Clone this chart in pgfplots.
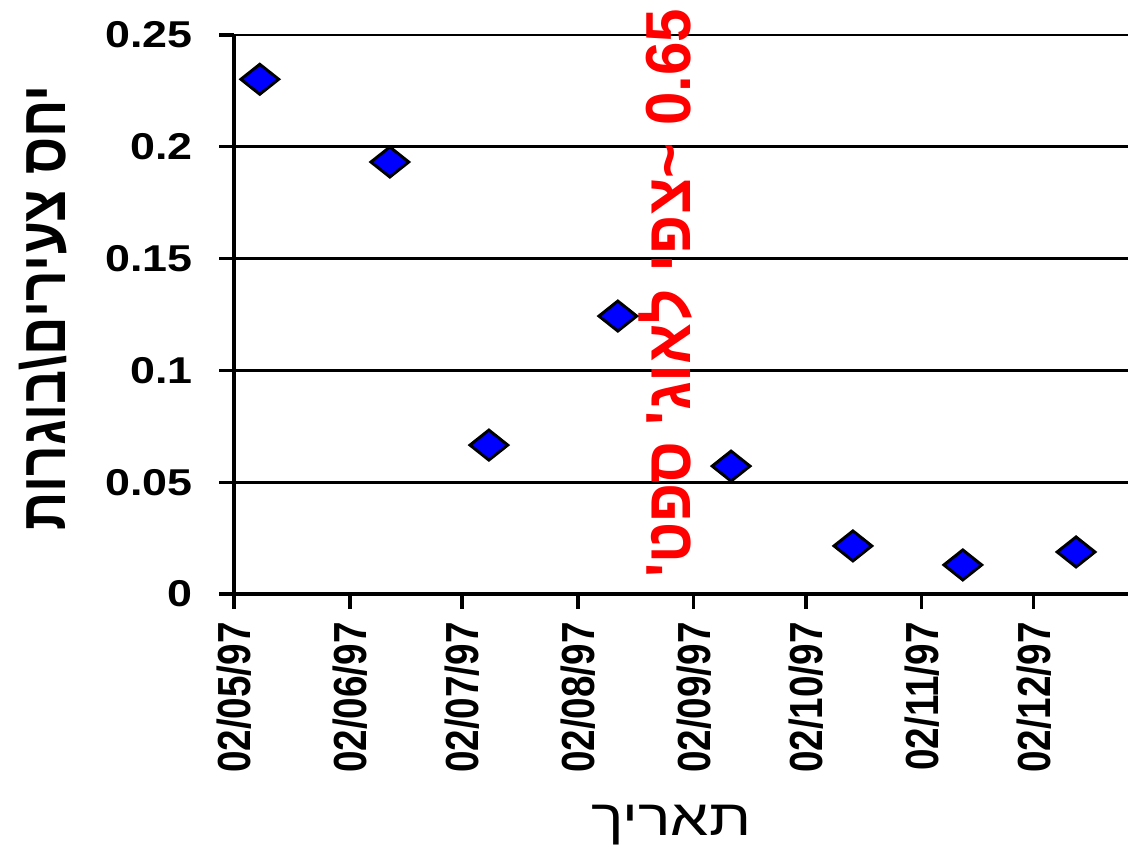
\documentclass[border=0pt]{standalone}
\usepackage{graphicx}
\usepackage{pgfplots}
\pgfplotsset{compat=1.18}
\usepackage{fontspec}
\setmainfont{Liberation Sans}
\newfontfamily\heb[Script=Hebrew]{Liberation Sans}
\TeXXeTstate=1
\newcommand\hs[1]{\scalebox{1.2}[1]{#1}}
\newcommand\vs[1]{\scalebox{1}[1.2]{#1}}
\begin{document}
\begin{tikzpicture}
\begin{axis}[
  scale only axis, width=670.5pt, height=419.25pt,
  xmin=0, xmax=239.2, ymin=0, ymax=0.25,
  axis x line*=bottom, axis y line*=left,
  axis line style={-, black, line width=2.5pt},
  ymajorgrids, grid style={black, line width=2.2pt},
  xtick={0,31,61,92,123,153,184,214},
  xticklabels={\vs{02/05/97},\vs{02/06/97},\vs{02/07/97},\vs{02/08/97},\vs{02/09/97},\vs{02/10/97},\vs{02/11/97},\vs{02/12/97}},
  ytick={0,0.05,0.1,0.15,0.2,0.25},
  yticklabels={\hs{0},\hs{0.05},\hs{0.1},\hs{0.15},\hs{0.2},\hs{0.25}},
  tick align=outside, major tick length=11pt,
  tick style={black, line width=2.5pt},
  xticklabel style={font=\bfseries\fontsize{29}{31}\selectfont, rotate=90, anchor=east, inner xsep=10pt, inner ysep=0pt},
  yticklabel style={font=\bfseries\fontsize{28}{30}\selectfont, anchor=east, inner xsep=20pt, inner ysep=0pt},
  clip=false,
]
\addplot[only marks, mark=diamond*, mark size=11.25pt,
  mark options={fill={rgb,255:red,0;green,0;blue,255}, draw=black, line width=2.2pt, xscale=1.68}]
  coordinates {
  (6.9,0.2302) (41.7,0.1932) (68.2,0.0666) (102.7,0.1243)
  (133.0,0.0572) (165.6,0.0215) (195.0,0.0130) (225.3,0.0188)
  };
\node[rotate=90, text={rgb,255:red,255;green,0;blue,0}, font=\heb\bfseries\fontsize{45}{50}\selectfont, anchor=center, inner sep=0pt]
  at (axis cs:115.5,0.1345) {\scalebox{1}[1.06]{\beginR\beginL 0.65\endL\hspace{0.3em}\textasciitilde צפי לאוג' ספט'\endR}};
\coordinate (SW) at (rel axis cs:0,0);
\coordinate (NE) at (rel axis cs:1,1);
\coordinate (YL) at (rel axis cs:0,0.5115);
\coordinate (XL) at (rel axis cs:0.489,0);
\end{axis}
\node[rotate=90, font=\heb\bfseries\fontsize{40}{44}\selectfont, anchor=center, inner sep=0pt]
  at ([xshift=-142.9pt]YL) {\vs{\beginR יחס צעירים\textbackslash בוגרות\endR}};
\node[font=\heb\fontsize{38}{42}\selectfont, anchor=base, inner sep=0pt]
  at ([yshift=-180.75pt]XL) {\hs{\beginR תאריך\endR}};
\pgfresetboundingbox
\path ([shift={(-175.5pt,-194.25pt)}]SW) rectangle ([shift={(0pt,26.25pt)}]NE);
\end{tikzpicture}
\end{document}
